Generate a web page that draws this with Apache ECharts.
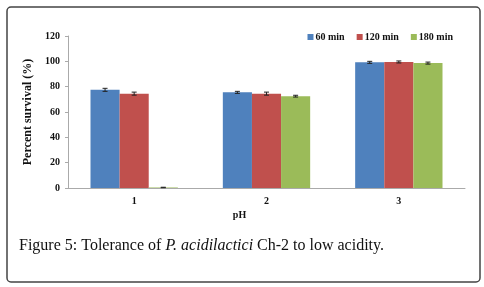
<!DOCTYPE html>
<html>
<head>
<meta charset="utf-8">
<script src="https://cdn.jsdelivr.net/npm/echarts@6/dist/echarts.min.js"></script>
<style>
  html, body { margin: 0; padding: 0; background: #fff; }
  #chart { width: 484px; height: 287px; }
</style>
</head>
<body>
<div id="chart"></div>
<script>
// pH 值与各时间点存活率
const categories = ['1', '2', '3']
const seriesNames = ['60 min', '120 min', '180 min']
const values60 = [77.5, 75.5, 99.2]
const values120 = [74.5, 74.5, 99.5]
const values180 = [0.4, 72.5, 98.6]
const errors60 = [1.2, 0.8, 0.8]
const errors120 = [1.2, 1.2, 0.8]
const errors180 = [0.2, 0.7, 0.8]
const yTicks = [0, 20, 40, 60, 80, 100, 120]

const colors = ['#4F81BD', '#C0504D', '#9BBB59']
const allValues = [values60, values120, values180]
const allErrors = [errors60, errors120, errors180]
const catGap = 0.34

let chart = echarts.init(document.getElementById('chart'))

// 误差线
function errorSeries (idx) {
  return {
    type: 'custom',
    name: seriesNames[idx] + ' err',
    z: 10,
    silent: true,
    renderItem (params, api) {
      const c = api.value(0)
      const v = api.value(1)
      const e = api.value(2)
      const catW = api.size([1, 0])[0]
      const barW = catW * (1 - catGap) / 3
      const center = api.coord([c, 0])[0] + (idx - 1) * barW
      const top = api.coord([c, v + e])[1]
      const bot = api.coord([c, v - e])[1]
      const style = { stroke: '#222', lineWidth: 1 }
      return {
        type: 'group',
        children: [
          { type: 'line', shape: { x1: center, y1: top, x2: center, y2: bot }, style },
          { type: 'line', shape: { x1: center - 2.5, y1: top, x2: center + 2.5, y2: top }, style },
          { type: 'line', shape: { x1: center - 2.5, y1: bot, x2: center + 2.5, y2: bot }, style }
        ]
      }
    },
    data: categories.map((c, i) => [i, allValues[idx][i], allErrors[idx][i]])
  }
}

const barSeries = seriesNames.map((name, idx) => ({
  type: 'bar',
  name: name,
  data: allValues[idx],
  barGap: '0%',
  barCategoryGap: (catGap * 100) + '%',
  itemStyle: { color: colors[idx] }
}))

chart.setOption({
  animation: false,
  textStyle: { fontFamily: 'Liberation Serif' },
  title: {
    text: '{a|Figure 5: Tolerance of }{i|P. acidilactici}{a| Ch-2 to low acidity.}',
    left: 14,
    top: 233,
    textStyle: {
      rich: {
        a: { fontFamily: 'Liberation Serif', fontWeight: 'normal', fontSize: 16, color: '#111' },
        i: { fontFamily: 'Liberation Serif', fontWeight: 'normal', fontSize: 16, fontStyle: 'italic', color: '#111' }
      }
    }
  },
  legend: {
    data: seriesNames,
    right: 26,
    top: 27,
    itemWidth: 6,
    itemHeight: 6,
    itemGap: 12,
    icon: 'rect',
    textStyle: { fontFamily: 'Liberation Serif', fontWeight: 'bold', fontSize: 10, color: '#111', padding: [0, 0, 0, -3] }
  },
  grid: { left: 68, right: 19, top: 36, bottom: 99 },
  xAxis: {
    type: 'category',
    data: categories,
    name: 'pH',
    nameLocation: 'middle',
    nameGap: 21,
    nameTextStyle: { fontFamily: 'Liberation Serif', fontWeight: 'bold', fontSize: 10, color: '#111', padding: [0, 54, 0, 0] },
    axisLine: { lineStyle: { color: '#aaa' } },
    axisTick: { lineStyle: { color: '#aaa' }, length: 3 },
    axisLabel: { fontFamily: 'Liberation Serif', fontWeight: 'bold', fontSize: 10, color: '#111', margin: 8 }
  },
  yAxis: {
    type: 'value',
    min: 0,
    max: 120,
    interval: 20,
    name: 'Percent survival (%)',
    nameLocation: 'middle',
    nameGap: 34,
    nameTextStyle: { fontFamily: 'Liberation Serif', fontWeight: 'bold', fontSize: 12, color: '#111' },
    axisLine: { show: true, lineStyle: { color: '#aaa' } },
    axisTick: { show: true, lineStyle: { color: '#aaa' }, length: 3 },
    splitLine: { show: false },
    axisLabel: {
      fontFamily: 'Liberation Serif',
      fontWeight: 'bold',
      fontSize: 10,
      color: '#111',
      margin: 8,
      formatter: v => yTicks.includes(v) ? String(v) : ''
    }
  },
  graphic: [{
    type: 'rect',
    shape: { x: 7, y: 7, width: 473, height: 275, r: 4 },
    style: { fill: 'none', stroke: '#444', lineWidth: 1.5 },
    silent: true
  }],
  series: barSeries.concat([errorSeries(0), errorSeries(1), errorSeries(2)])
})
</script>
</body>
</html>
